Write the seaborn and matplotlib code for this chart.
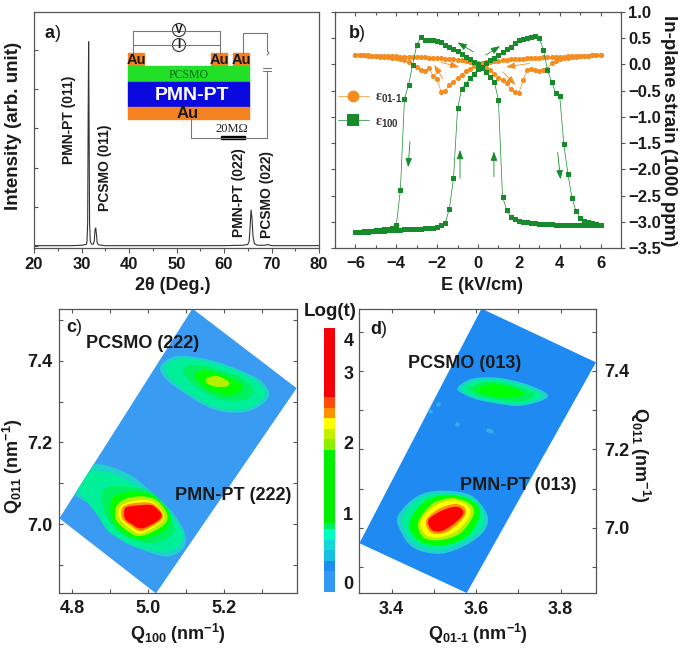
import matplotlib
matplotlib.use('Agg')
import matplotlib.pyplot as plt
from matplotlib.colors import ListedColormap
from matplotlib.patches import Circle, PathPatch, Polygon, Rectangle
from matplotlib.path import Path
from matplotlib.ticker import MultipleLocator, NullFormatter
import seaborn as sns
import pandas as pd
import numpy as np

W, H = 685, 651

# a) XRD scan
two_theta = [20, 25, 28, 30, 31, 31.15, 31.3, 31.4, 31.5, 31.6, 31.7, 31.85, 32.1, 32.5, 32.7, 32.85, 33, 33.15,
             33.3, 33.6, 35, 45, 60, 64, 65, 65.3, 65.5, 65.7, 65.9, 66.1, 66.4, 67, 68.5, 69, 69.2, 69.4, 70, 75, 80]
intensity = [0.01, 0.01, 0.01, 0.02, 0.04, 0.1, 0.6, 3.2, 5.21, 3.0, 0.6, 0.12, 0.05, 0.05, 0.14, 0.42, 0.46, 0.3,
             0.08, 0.03, 0.01, 0.01, 0.01, 0.02, 0.04, 0.12, 0.5, 0.92, 0.7, 0.25, 0.06, 0.02, 0.02, 0.03, 0.04, 0.03,
             0.01, 0.01, 0.01]

# b) strain loops, 0.2 kV/cm steps
e_up = [-6.0, -5.8, -5.6, -5.4, -5.2, -5.0, -4.8, -4.6, -4.4, -4.2, -4.0, -3.8, -3.6, -3.4, -3.2, -3.0, -2.8, -2.6,
        -2.4, -2.2, -2.0, -1.8, -1.6, -1.4, -1.2, -1.0, -0.8, -0.6, -0.4, -0.2, 0.0, 0.2, 0.4, 0.6, 0.8, 1.0, 1.2,
        1.4, 1.6, 1.8, 2.0, 2.2, 2.4, 2.6, 2.8, 3.0, 3.2, 3.4, 3.6, 3.8, 4.0, 4.2, 4.4, 4.6, 4.8, 5.0, 5.2, 5.4,
        5.6, 5.8, 6.0]
e_down = e_up[::-1]
green_up = [-3.20, -3.20, -3.19, -3.19, -3.18, -3.18, -3.17, -3.17, -3.16, -3.16, -3.15, -3.15, -3.14, -3.14, -3.14,
            -3.13, -3.13, -3.12, -3.12, -3.11, -3.10, -3.07, -3.02, -2.75, -2.17, -0.84, -0.47, -0.37, -0.26, -0.18,
            -0.09, -0.05, 0.02, 0.08, 0.13, 0.18, 0.23, 0.29, 0.34, 0.40, 0.47, 0.49, 0.51, 0.52, 0.55, 0.50, 0.28,
            -0.10, -0.33, -0.54, -0.60, -1.52, -2.08, -2.55, -2.80, -2.92, -2.98, -3.00, -3.03, -3.05, -3.06]
green_down = [-3.07, -3.07, -3.07, -3.07, -3.07, -3.07, -3.07, -3.07, -3.06, -3.06, -3.06, -3.06, -3.05, -3.05, -3.04,
              -3.04, -3.03, -3.02, -3.01, -3.00, -2.98, -2.95, -2.90, -2.77, -2.52, -0.68, -0.33, -0.23, -0.15, -0.07,
              0.0, 0.05, 0.10, 0.15, 0.20, 0.25, 0.29, 0.33, 0.37, 0.42, 0.45, 0.46, 0.47, 0.47, 0.52, 0.37, -0.01,
              -0.39, -0.66, -2.40, -3.07, -3.12, -3.13, -3.14, -3.15, -3.16, -3.17, -3.18, -3.18, -3.19, -3.20]
orange_up = [.18, .18, .18, .18, .17, .17, .17, .16, .16, .16, .16, .15, .15, .15, .15, .14, .14, .14, .13, .13, .12,
             .12, .11, .11, .10, .09, .08, .07, .05, .04, .02, -.01, -.06, -.11, -.18, -.25, -.30, -.36, -.47, -.53,
             -.55, -.30, -.11, -.09, -.10, -.12, -.11, -.08, .03, .07, .10, .12, .13, .14, .15, .16, .17, .17, .18,
             .18, .18]
orange_down = [.18, .18, .18, .17, .17, .17, .16, .16, .16, .15, .15, .15, .14, .14, .14, .13, .13, .12, .12, .11, .11,
               .10, .10, .09, .08, .07, .06, .05, .04, .03, .01, -.03, -.08, -.13, -.20, -.26, -.33, -.39, -.50, -.53,
               -.27, -.22, -.07, -.12, -.10, -.05, -.01, .04, .08, .10, .12, .13, .14, .15, .15, .16, .17, .17, .18,
               .18, .18]

# reciprocal space map outlines, one (Q_x, Q_z) list per intensity band, low to high
band_colors = ['#1fd0cc', '#00f09a', '#00f060', '#00ff00', '#b4f000', '#ffff00', '#ff9000', '#ff0000']

c_scan = [(5.117, 7.528), (5.391, 7.333), (5.021, 6.830), (4.767, 7.014)]
c_lower = [
    (0, [(4.80, 7.15), (4.852, 7.149), (4.900, 7.141), (4.961, 7.116), (5.023, 7.067), (5.067, 7.026), (5.097, 6.977),
         (5.093, 6.940), (5.049, 6.920), (4.988, 6.936), (4.935, 6.957), (4.891, 6.993), (4.856, 7.042), (4.80, 7.08)]),
    (1, [(4.80, 7.125), (4.843, 7.132), (4.900, 7.126), (4.970, 7.095), (5.023, 7.058), (5.075, 7.006), (5.092, 6.965),
         (5.058, 6.933), (4.975, 6.943), (4.900, 6.979), (4.865, 7.025), (4.81, 7.09)]),
    (2, [(4.882, 7.083), (4.944, 7.092), (5.014, 7.075), (5.058, 7.018), (5.067, 6.977), (5.014, 6.953), (4.944, 6.969),
         (4.891, 7.018)]),
    (3, [(4.905, 7.062), (4.948, 7.078), (5.000, 7.074), (5.040, 7.050), (5.060, 7.018), (5.045, 6.985), (4.983, 6.962),
         (4.940, 6.975), (4.905, 7.012)]),
    (4, [(4.919, 7.047), (4.953, 7.065), (4.995, 7.067), (5.027, 7.055), (5.051, 7.022), (5.038, 6.995), (4.983, 6.971),
         (4.948, 6.982), (4.916, 7.011)]),
    (5, [(4.926, 7.041), (4.953, 7.055), (4.992, 7.059), (5.018, 7.051), (5.042, 7.022), (5.032, 7.002), (4.983, 6.977),
         (4.953, 6.989), (4.925, 7.014)]),
    (6, [(4.932, 7.040), (4.955, 7.050), (4.998, 7.053), (5.021, 7.045), (5.039, 7.022), (5.028, 7.004), (4.983, 6.983),
         (4.955, 6.995), (4.932, 7.014)]),
    (7, [(4.939, 7.038), (4.957, 7.044), (5.005, 7.047), (5.023, 7.038), (5.036, 7.022), (5.023, 7.006), (4.983, 6.989),
         (4.957, 7.000), (4.939, 7.014)]),
]
c_upper = [
    (0, [(5.032, 7.386), (5.067, 7.410), (5.119, 7.410), (5.181, 7.398), (5.242, 7.377), (5.295, 7.353), (5.319, 7.320),
         (5.304, 7.296), (5.260, 7.275), (5.198, 7.275), (5.146, 7.292), (5.084, 7.328), (5.045, 7.357)]),
    (1, [(5.045, 7.386), (5.075, 7.404), (5.122, 7.405), (5.181, 7.392), (5.240, 7.373), (5.290, 7.347), (5.309, 7.320),
         (5.293, 7.300), (5.255, 7.282), (5.198, 7.282), (5.148, 7.298), (5.090, 7.332), (5.056, 7.360)]),
    (2, [(5.093, 7.382), (5.137, 7.390), (5.189, 7.377), (5.242, 7.361), (5.273, 7.337), (5.277, 7.320), (5.251, 7.304),
         (5.198, 7.304), (5.154, 7.320), (5.111, 7.349)]),
    (3, [(5.124, 7.369), (5.154, 7.377), (5.198, 7.365), (5.242, 7.345), (5.246, 7.328), (5.216, 7.316), (5.172, 7.324),
         (5.137, 7.345)]),
    (4, [(5.154, 7.357), (5.181, 7.363), (5.212, 7.349), (5.207, 7.337), (5.176, 7.337), (5.156, 7.345)]),
]

d_scan = [(3.613, 7.559), (3.884, 7.422), (3.578, 6.834), (3.324, 6.961)]
d_lower = [
    (0, [(3.416, 7.033), (3.460, 7.080), (3.515, 7.095), (3.586, 7.084), (3.625, 7.037), (3.621, 6.995), (3.578, 6.957),
         (3.515, 6.934), (3.452, 6.949), (3.420, 6.995)]),
    (1, [(3.428, 7.033), (3.467, 7.076), (3.519, 7.088), (3.586, 7.076), (3.618, 7.037), (3.611, 6.995), (3.574, 6.966),
         (3.515, 6.944), (3.460, 6.957), (3.431, 6.995)]),
    (3, [(3.448, 7.029), (3.483, 7.071), (3.538, 7.084), (3.594, 7.067), (3.609, 7.033), (3.582, 6.982), (3.531, 6.957),
         (3.475, 6.961), (3.444, 6.995)]),
    (4, [(3.464, 7.016), (3.499, 7.063), (3.546, 7.076), (3.586, 7.061), (3.594, 7.033), (3.562, 6.986), (3.515, 6.969),
         (3.475, 6.976)]),
    (5, [(3.469, 7.016), (3.503, 7.056), (3.546, 7.070), (3.580, 7.056), (3.586, 7.033), (3.558, 6.995), (3.515, 6.976),
         (3.482, 6.982)]),
    (6, [(3.482, 7.020), (3.511, 7.048), (3.550, 7.061), (3.574, 7.050), (3.571, 7.027), (3.542, 6.997), (3.515, 6.985),
         (3.490, 6.991)]),
    (7, [(3.487, 7.020), (3.515, 7.042), (3.550, 7.054), (3.568, 7.046), (3.566, 7.029), (3.538, 7.003), (3.515, 6.991),
         (3.495, 6.995)]),
]
d_upper = [
    (0, [(3.556, 7.354), (3.590, 7.380), (3.649, 7.383), (3.712, 7.369), (3.767, 7.343), (3.759, 7.326), (3.704, 7.311),
         (3.649, 7.317), (3.594, 7.330)]),
    (1, [(3.566, 7.354), (3.595, 7.375), (3.649, 7.379), (3.710, 7.364), (3.755, 7.342), (3.748, 7.328), (3.702, 7.315),
         (3.649, 7.321), (3.598, 7.333)]),
    (2, [(3.580, 7.354), (3.608, 7.370), (3.653, 7.373), (3.704, 7.358), (3.740, 7.340), (3.705, 7.322), (3.653, 7.327),
         (3.605, 7.337)]),
    (3, [(3.600, 7.354), (3.640, 7.367), (3.690, 7.356), (3.715, 7.342), (3.680, 7.331), (3.625, 7.339)]),
]
d_spots_x = [3.511, 3.490, 3.554, 3.629, 3.635]
d_spots_y = [7.315, 7.298, 7.265, 7.250, 7.246]

# colour scale: steps from top to bottom and how many rows each one takes
scale_colors = ['#f40008', '#ff4a08', '#ff9000', '#ffff00', '#c4f000', '#8cf000', '#00f000', '#00f060', '#00ffc0',
                '#14d8d8', '#18c0e0', '#1e8cf0', '#3399f5']
scale_rows = [20, 3, 3, 3, 3, 3, 21, 2, 3, 3, 3, 3, 6]
scale_labels = ['4', '3', '2', '1', '0']
scale_label_rows = [3.45, 12.67, 33.1, 53.5, 73.4]

sns.set_style('ticks')
plt.rcParams['font.family'] = ['Liberation Sans', 'DejaVu Sans']
plt.rcParams['font.weight'] = 'bold'
plt.rcParams['axes.linewidth'] = 0.9
plt.rcParams['axes.edgecolor'] = '#555555'
plt.rcParams['xtick.color'] = '#555555'
plt.rcParams['ytick.color'] = '#555555'
plt.rcParams['xtick.labelcolor'] = '#1a1a1a'
plt.rcParams['ytick.labelcolor'] = '#1a1a1a'
plt.rcParams['mathtext.fontset'] = 'custom'
plt.rcParams['mathtext.rm'] = 'Liberation Sans:bold'
plt.rcParams['mathtext.bf'] = 'Liberation Sans:bold'
plt.rcParams['mathtext.default'] = 'bf'


def box(left, top, right, bottom):
    return [left / W, 1 - bottom / H, (right - left) / W, (bottom - top) / H]


def rounded_patch(points, color):
    # closed bezier outline passing through the read points
    pts = np.array(points)
    before = np.roll(pts, 1, axis=0)
    after = np.roll(pts, -1, axis=0)
    after2 = np.roll(pts, -2, axis=0)
    verts = [pts[0]]
    codes = [Path.MOVETO]
    for p0, p1, p2, p3 in zip(before, pts, after, after2):
        verts += [p1 + (p2 - p0) / 6, p2 - (p3 - p1) / 6, p2]
        codes += [Path.CURVE4, Path.CURVE4, Path.CURVE4]
    return PathPatch(Path(verts, codes), facecolor=color, edgecolor='none')


def draw_map(ax, scan, peaks, background):
    scan_patch = Polygon(scan, closed=True, facecolor=background, edgecolor='none', zorder=1)
    ax.add_patch(scan_patch)
    for peak in peaks:
        for level, outline in peak:
            patch = rounded_patch(outline, band_colors[level])
            patch.set_zorder(2)
            ax.add_patch(patch)
            patch.set_clip_path(scan_patch)


def arrow(ax, tail, head, color):
    ax.annotate('', xy=head, xytext=tail, zorder=5,
                arrowprops=dict(arrowstyle='-|>,head_width=0.2,head_length=0.55', color=color, lw=0.6,
                                shrinkA=0, shrinkB=0))


fig = plt.figure(figsize=(W / 100, H / 100), dpi=100)

# panel a
ax_a = fig.add_axes(box(34, 12, 319, 248))
sns.lineplot(x=two_theta, y=intensity, ax=ax_a, color='#333333', linewidth=0.8, estimator=None, sort=False)
ax_a.set_xlim(20, 80)
ax_a.set_ylim(-0.05, 5.97)
ax_a.xaxis.set_major_locator(MultipleLocator(10))
ax_a.xaxis.set_minor_locator(MultipleLocator(5))
ax_a.yaxis.set_major_locator(MultipleLocator(1))
ax_a.yaxis.set_major_formatter(NullFormatter())
ax_a.tick_params(axis='x', which='major', direction='out', length=3.5, width=0.8, labelsize=12, pad=3)
ax_a.tick_params(axis='x', which='minor', direction='out', length=2, width=0.8)
ax_a.tick_params(axis='y', which='major', direction='in', length=3, width=0.8)

# panel b
ax_b = fig.add_axes(box(335, 12, 621, 248))
orange_df = pd.DataFrame({'e': e_up + e_down, 'strain': orange_up + orange_down})
green_df = pd.DataFrame({'e': e_up + e_down, 'strain': green_up + green_down})
sns.lineplot(data=orange_df, x='e', y='strain', ax=ax_b, color='#f58c20', linewidth=0.5, marker='o', markersize=3.7,
             markeredgewidth=0, estimator=None, sort=False, label=r'ε$_{01\text{-}1}$', zorder=3)
sns.lineplot(data=green_df, x='e', y='strain', ax=ax_b, color='#178a2a', linewidth=0.5, marker='s', markersize=3.6,
             markeredgewidth=0, estimator=None, sort=False, label='ε$_{100}$', zorder=4)
ax_b.set_xlim(-7, 7)
ax_b.set_ylim(-3.5, 1.0)
ax_b.xaxis.set_major_locator(MultipleLocator(2))
ax_b.xaxis.set_minor_locator(MultipleLocator(1))
ax_b.yaxis.set_major_locator(MultipleLocator(0.5))
ax_b.yaxis.set_ticks_position('both')
ax_b.xaxis.set_ticks_position('both')
ax_b.tick_params(axis='y', which='major', labelleft=False, labelright=True, left=True, right=True, length=3,
                 width=0.8, labelsize=12, pad=2, direction='out')
ax_b.tick_params(axis='x', which='major', labelsize=12, direction='in', length=3, width=0.8, pad=6)
ax_b.tick_params(axis='x', which='minor', direction='in', length=2, width=0.8)
leg = ax_b.legend(loc='center left', bbox_to_anchor=(338 / W, 1 - 110 / H), bbox_transform=fig.transFigure,
                  frameon=False, markerscale=2.3, handlelength=2.2, handletextpad=0.45, labelspacing=0.75,
                  borderpad=0, borderaxespad=0, prop={'family': 'Liberation Serif', 'size': 10})
for t in leg.get_texts():
    t.set_color('#333333')
arrow(ax_b, (-0.23, 0.24), (-1.0, 0.42), '#178a2a')
arrow(ax_b, (0.39, 0.18), (1.08, 0.35), '#178a2a')
arrow(ax_b, (-3.33, -1.47), (-3.42, -1.96), '#178a2a')
arrow(ax_b, (-0.88, -2.17), (-0.88, -1.63), '#178a2a')
arrow(ax_b, (0.78, -2.14), (0.78, -1.66), '#178a2a')
arrow(ax_b, (3.9, -1.68), (4.04, -2.19), '#178a2a')
arrow(ax_b, (-1.73, -0.27), (-2.14, -0.01), '#f58c20')
arrow(ax_b, (-1.81, 0.04), (-0.92, -0.05), '#f58c20')
arrow(ax_b, (2.52, 0.02), (1.37, -0.05), '#f58c20')
arrow(ax_b, (1.21, -0.14), (1.83, -0.39), '#f58c20')

# panel c
ax_c = fig.add_axes(box(59, 309, 297, 593))
draw_map(ax_c, c_scan, [c_lower, c_upper], '#3a9bf2')
ax_c.set_xlim(4.766, 5.392)
ax_c.set_ylim(6.831, 7.527)
ax_c.yaxis.set_major_locator(MultipleLocator(0.2))
ax_c.yaxis.set_minor_locator(MultipleLocator(0.1))
ax_c.xaxis.set_major_locator(MultipleLocator(0.2))
ax_c.xaxis.set_minor_locator(MultipleLocator(0.1))
ax_c.tick_params(which='both', direction='in', top=True, right=True, left=True, bottom=True, length=3, width=0.8)
ax_c.tick_params(which='major', labelsize=13, pad=5)

# panel d
ax_d = fig.add_axes(box(359, 309, 596, 593))
draw_map(ax_d, d_scan, [d_lower, d_upper], '#1f8bf2')
sns.scatterplot(x=d_spots_x, y=d_spots_y, ax=ax_d, color='#30b0ea', s=10, linewidth=0, marker='o', zorder=3)
ax_d.set_xlim(3.323, 3.884)
ax_d.set_ylim(6.834, 7.558)
ax_d.yaxis.set_major_locator(MultipleLocator(0.2))
ax_d.yaxis.set_minor_locator(MultipleLocator(0.1))
ax_d.xaxis.set_major_locator(MultipleLocator(0.2))
ax_d.xaxis.set_minor_locator(MultipleLocator(0.1))
ax_d.tick_params(which='both', direction='in', top=True, right=True, left=True, bottom=True, length=3, width=0.8)
ax_d.tick_params(which='major', labelsize=13, pad=6, labelleft=False, labelright=True)

# colour scale
ax_s = fig.add_axes(box(324, 328, 335, 592))
scale_cells = np.repeat(np.arange(len(scale_colors)), scale_rows).reshape(-1, 1)
sns.heatmap(scale_cells, ax=ax_s, cmap=ListedColormap(scale_colors), cbar=False, xticklabels=False,
            vmin=-0.5, vmax=len(scale_colors) - 0.5)
ax_s.yaxis.tick_right()
ax_s.set_yticks(scale_label_rows)
ax_s.set_yticklabels(scale_labels, rotation=0, fontsize=13, color='#1a1a1a')
ax_s.tick_params(axis='y', length=0, pad=6)

# axis labels
ax_a.set_ylabel('Intensity (arb. unit)', fontsize=13.5, fontweight='bold', va='center', color='#1a1a1a')
ax_a.yaxis.set_label_coords(14 / W, 1 - 126 / H, transform=fig.transFigure)
ax_a.set_xlabel('2θ (Deg.)', fontsize=13, fontweight='bold', va='center', color='#1a1a1a')
ax_a.xaxis.set_label_coords(173 / W, 1 - 285 / H, transform=fig.transFigure)
ax_b.set_ylabel('In-plane strain (1000 ppm)', fontsize=13.5, fontweight='bold', va='center', rotation=-90,
                color='#1a1a1a')
ax_b.yaxis.set_label_coords(668 / W, 1 - 131 / H, transform=fig.transFigure)
ax_b.set_xlabel('E (kV/cm)', fontsize=13, fontweight='bold', va='center', color='#1a1a1a')
ax_b.xaxis.set_label_coords(482 / W, 1 - 285 / H, transform=fig.transFigure)
ax_c.set_ylabel('Q$_{011}$ (nm$^{-1}$)', fontsize=13, fontweight='bold', va='center', color='#1a1a1a')
ax_c.yaxis.set_label_coords(13 / W, 1 - 466 / H, transform=fig.transFigure)
ax_c.set_xlabel('Q$_{100}$ (nm$^{-1}$)', fontsize=13, fontweight='bold', va='center', color='#1a1a1a')
ax_c.xaxis.set_label_coords(178 / W, 1 - 634 / H, transform=fig.transFigure)
ax_d.set_ylabel('Q$_{011}$ (nm$^{-1}$)', fontsize=13, fontweight='bold', va='center', rotation=-90, color='#1a1a1a')
ax_d.yaxis.set_label_position('right')
ax_d.yaxis.set_label_coords(652 / W, 1 - 455 / H, transform=fig.transFigure)
ax_d.set_xlabel(r'Q$_{01\text{-}1}$ (nm$^{-1}$)', fontsize=13, fontweight='bold', va='center', color='#1a1a1a')
ax_d.xaxis.set_label_coords(478 / W, 1 - 634 / H, transform=fig.transFigure)

# everything placed by eye on the page goes on a pixel overlay
page = fig.add_axes([0, 0, 1, 1], zorder=10)
page.set_xlim(0, W)
page.set_ylim(H, 0)
page.axis('off')
page.patch.set_alpha(0)
dark = '#1a1a1a'
for s, x, y, size, rot in [
    ('PMN-PT (011)', 69, 120, 10, 90), ('PCSMO (011)', 105, 168, 10, 90),
    ('PMN-PT (022)', 239, 193, 10, 90), ('PCSMO (022)', 267, 194, 10, 90),
    ('PCSMO (222)', 143, 344, 13, 0), ('PMN-PT (222)', 233, 495, 13, 0),
    ('PCSMO (013)', 465, 363, 13, 0), ('PMN-PT (013)', 518, 486, 13, 0),
    ('Log(t)', 330, 312, 13.5, 0),
]:
    page.text(x, y, s, fontsize=size, rotation=rot, ha='center', va='center', color=dark, fontweight='bold')
# panel tags, the bracket is not bold in the original
for s, x, y in [('a', 50, 33), ('b', 354, 33), ('c', 71, 328), ('d', 376, 329)]:
    page.text(x, y, s, fontsize=13, ha='center', va='center', color=dark, fontweight='bold')
    page.text(x + 8, y, ')', fontsize=13, ha='center', va='center', color=dark, fontweight='normal')

# sample stack sketch
wire = '#777777'
page.plot([133.5, 133.5, 220.5, 220.5], [53, 30.5, 30.5, 53], color=wire, lw=0.8)
page.plot([133.5, 220.5], [45, 45], color=wire, lw=0.8)
page.plot([243.5, 243.5, 267.5, 267.5], [53, 32.5, 32.5, 51], color=wire, lw=0.8)
page.plot([267.5, 269, 267], [51, 53, 55], color=wire, lw=0.8)
page.plot([267, 267, 191, 191], [72, 137.5, 137.5, 119], color=wire, lw=0.8)
page.plot([263, 271], [68, 68], color=wire, lw=0.8)
page.plot([263, 271], [71, 71], color=wire, lw=0.8)
page.add_patch(Rectangle((128, 53), 16, 13, color='#f58220'))
page.add_patch(Rectangle((211, 53), 16, 13, color='#f58220'))
page.add_patch(Rectangle((233, 53), 16, 13, color='#f58220'))
page.add_patch(Rectangle((128, 66), 121, 16, color='#22e028'))
page.add_patch(Rectangle((128, 82), 121, 25, color='#0a0ae0'))
page.add_patch(Rectangle((128, 107), 121, 12, color='#f58220'))
page.add_patch(Rectangle((221, 135.5), 24, 3.2, color='black'))
for s, x in [('Au', 136.5), ('Au', 219.5), ('Au', 241)]:
    page.text(x, 60, s, fontsize=10.5, ha='center', va='center', color=dark, fontweight='bold')
page.text(188, 113.5, 'Au', fontsize=12, ha='center', va='center', color=dark, fontweight='bold')
page.text(192, 95, 'PMN-PT', fontsize=14, ha='center', va='center', color='white', fontweight='bold')
page.text(189, 75, 'PCSMO', fontsize=8.5, family='Liberation Serif', fontweight='normal', ha='center', va='center',
          color='#106a20')
page.text(232, 129, '20MΩ', fontsize=9, family='Liberation Serif', fontweight='normal', ha='center', va='center',
          color='#222222')
for s, y in [('V', 30), ('I', 45)]:
    page.add_patch(Circle((179, y), 6.5, facecolor='white', edgecolor='#333333', lw=0.8))
    page.text(179, y + 0.3, s, fontsize=8.5, ha='center', va='center', color=dark, fontweight='bold')

fig.savefig('out.png', dpi=100)
